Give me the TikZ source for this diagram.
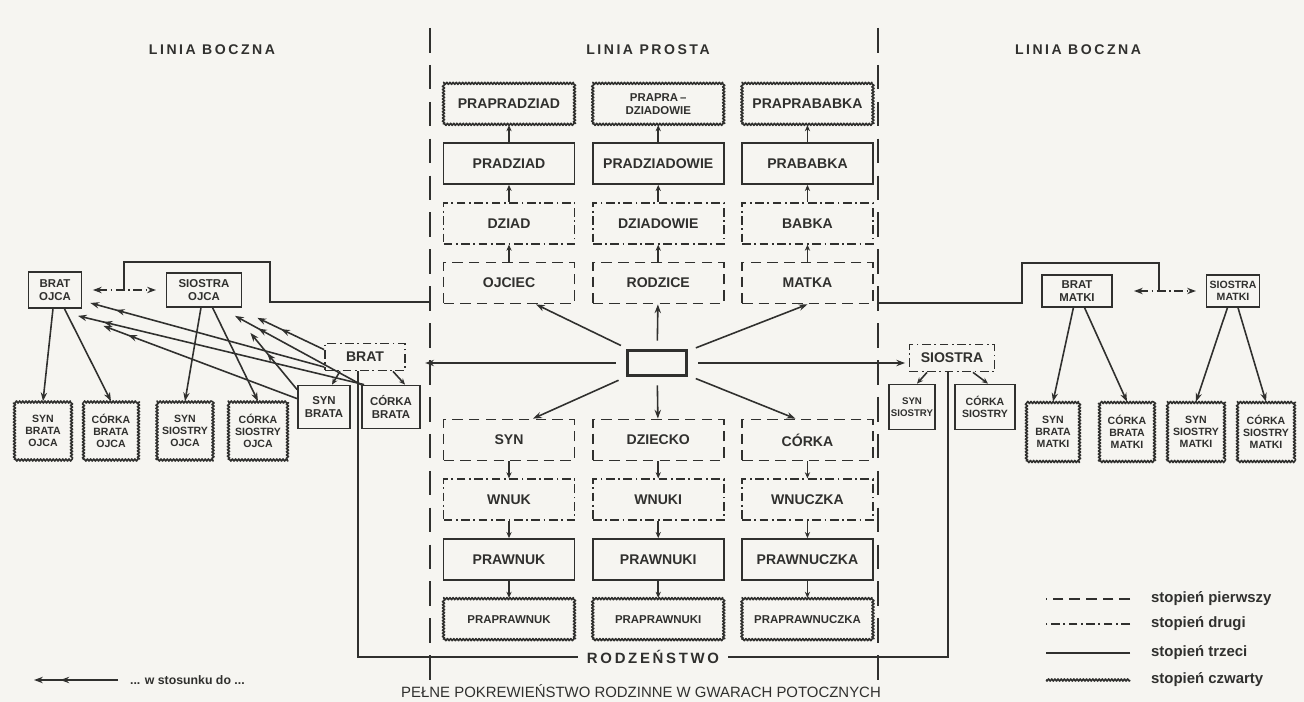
\documentclass[tikz,border=0pt]{standalone}
\usepackage{fontspec}
\setmainfont{Liberation Sans}
\newfontfamily\spacedfont[LetterSpace=18]{Liberation Sans}
\usetikzlibrary{arrows.meta,positioning,calc,decorations.pathmorphing,decorations.markings}
\definecolor{ink}{RGB}{48,48,46}
\definecolor{paper}{RGB}{246,245,241}

\begin{document}
\begin{tikzpicture}[x=0.02cm,y=-0.02cm]
		% degrees of kinship: 1 dashed, 2 dash-dot, 3 solid, 4 wavy
		\tikzstyle{lab} = [font=\bfseries\fontsize{8}{9}\selectfont, text=ink, align=center, inner sep=1pt]
		\tikzstyle{small} = [font=\bfseries\fontsize{6.5}{7.5}\selectfont]
		\tikzstyle{smaller} = [font=\bfseries\fontsize{6}{7}\selectfont]
		\tikzstyle{deg1} = [lab, draw=ink, line width=1pt, dash pattern=on 6pt off 3.5pt]
		\tikzstyle{deg2} = [lab, draw=ink, line width=1pt, dash pattern=on 5pt off 2pt on 1pt off 2pt]
		\tikzstyle{deg3} = [lab, draw=ink, line width=1pt]
		\tikzstyle{deg4} = [lab, draw=ink, line width=0.9pt, line join=round, decorate, decoration={zigzag, amplitude=0.6pt, segment length=1.8pt}]
		\tikzstyle{col} = [minimum width=2.62cm, minimum height=0.82cm]
		\tikzstyle{head} = [font=\spacedfont\bfseries\fontsize{8}{10}\selectfont, text=ink]
		\tikzstyle{note} = [font=\bfseries\fontsize{8.5}{10}\selectfont, text=ink, inner sep=1pt]
		\tikzstyle{titletext} = [font=\fontsize{8.5}{10}\selectfont, text=ink]
		\tikzstyle{wire} = [draw=ink, line width=0.9pt]
		\tikzstyle{arrow} = [wire, -{Stealth[length=5pt,width=3.6pt]}]
		\tikzstyle{link} = [wire, -{Stealth[length=3.5pt,width=3pt]}]
		\tikzstyle{rel} = [arrow, postaction={decorate}, decoration={markings, mark=at position -15pt with {\arrow{Stealth[length=5pt,width=3.6pt]}}}]
		\tikzstyle{dd} = [wire, {Stealth[length=5pt,width=3.6pt]}-{Stealth[length=5pt,width=3.6pt]}, dash pattern=on 5pt off 2pt on 1pt off 2pt]
		\tikzstyle{divider} = [draw=ink, line width=1.2pt, dash pattern=on 14pt off 7pt]

		\fill[paper] (0,0) rectangle (1304,702);
		\useasboundingbox (0,0) rectangle (1304,702);

		\node[head] (leftside) at (212,50) {LINIA BOCZNA};
		\node[head] (straight) at (648,50) {LINIA PROSTA};
		\node[head] (rightside) at (1078,50) {LINIA BOCZNA};

		\coordinate (divLt) at (430,28);
		\coordinate (divLb) at (430,682);
		\coordinate (divRt) at (878,28);
		\coordinate (divRb) at (878,682);
		\draw[divider] (divLt) -- (divLb);
		\draw[divider] (divRt) -- (divRb);

		% ascendants
		\node[deg1, col] (ojciec) at (509,283) {OJCIEC};
		\node[deg2, col, above=0.34cm of ojciec] (dziad) {DZIAD};
		\node[deg3, col, above=0.34cm of dziad] (pradziad) {PRADZIAD};
		\node[deg4, col, above=0.34cm of pradziad] (prapradziad) {PRAPRADZIAD};
		\node[deg1, col, right=0.33cm of ojciec] (rodzice) {RODZICE};
		\node[deg2, col, above=0.34cm of rodzice] (dziadowie) {DZIADOWIE};
		\node[deg3, col, above=0.34cm of dziadowie] (pradziadowie) {PRADZIADOWIE};
		\node[deg4, col, above=0.34cm of pradziadowie, small] (prapradziadowie) {PRAPRA\,--\\DZIADOWIE};
		\node[deg1, col, right=0.33cm of rodzice] (matka) {MATKA};
		\node[deg2, col, above=0.34cm of matka] (babka) {BABKA};
		\node[deg3, col, above=0.34cm of babka] (prababka) {PRABABKA};
		\node[deg4, col, above=0.34cm of prababka] (praprababka) {PRAPRABABKA};

		\node[deg3, minimum width=1.18cm, minimum height=0.5cm, line width=1.3pt] (ego) at (657,363) {};

		% descendants
		\node[deg1, col] (syn) at (509,440) {SYN};
		\node[deg2, col, below=0.34cm of syn] (wnuk) {WNUK};
		\node[deg3, col, below=0.34cm of wnuk] (prawnuk) {PRAWNUK};
		\node[deg4, col, below=0.34cm of prawnuk, small] (praprawnuk) {PRAPRAWNUK};
		\node[deg1, col, right=0.33cm of syn] (dziecko) {DZIECKO};
		\node[deg2, col, below=0.34cm of dziecko] (wnuki) {WNUKI};
		\node[deg3, col, below=0.34cm of wnuki] (prawnuki) {PRAWNUKI};
		\node[deg4, col, below=0.34cm of prawnuki, small] (praprawnuki) {PRAPRAWNUKI};
		\node[deg1, col, right=0.33cm of dziecko] (corka) {CÓRKA};
		\node[deg2, col, below=0.34cm of corka] (wnuczka) {WNUCZKA};
		\node[deg3, col, below=0.34cm of wnuczka] (prawnuczka) {PRAWNUCZKA};
		\node[deg4, col, below=0.34cm of prawnuczka, small] (praprawnuczka) {PRAPRAWNUCZKA};

		% father's side
		\node[deg3, small, minimum width=1.06cm, minimum height=0.72cm] (bratojca) at (55,290) {BRAT\\OJCA};
		\node[deg3, small, minimum width=1.5cm, minimum height=0.68cm] (siostraojca) at (204,290) {SIOSTRA\\OJCA};
		\node[deg2, minimum width=1.6cm, minimum height=0.54cm] (brat) at (365,357) {BRAT};
		\node[deg3, small, minimum width=1.04cm, minimum height=0.86cm] (synbrata) at (324,407) {SYN\\BRATA};
		\node[deg3, small, minimum width=1.16cm, minimum height=0.86cm] (corkabrata) at (391,407) {CÓRKA\\BRATA};
		\node[deg4, smaller, minimum width=1.14cm, minimum height=1.16cm] (synbratojca) at (43,431) {SYN\\BRATA\\OJCA};
		\node[deg4, smaller, minimum width=1.1cm, minimum height=1.16cm] (corkabratojca) at (111,431) {CÓRKA\\BRATA\\OJCA};
		\node[deg4, smaller, minimum width=1.12cm, minimum height=1.16cm] (synsiostryojca) at (185,431) {SYN\\SIOSTRY\\OJCA};
		\node[deg4, smaller, minimum width=1.18cm, minimum height=1.16cm] (corkasiostryojca) at (258,431) {CÓRKA\\SIOSTRY\\OJCA};

		% mother's side
		\node[deg3, small, minimum width=1.4cm, minimum height=0.64cm] (bratmatki) at (1077,291) {BRAT\\MATKI};
		\node[deg3, smaller, minimum width=1.06cm, minimum height=0.64cm] (siostramatki) at (1233,291) {SIOSTRA\\MATKI};
		\node[deg2, minimum width=1.7cm, minimum height=0.54cm] (siostra) at (952,358) {SIOSTRA};
		\node[deg3, font=\bfseries\fontsize{5.5}{6.5}\selectfont, minimum width=0.92cm, minimum height=0.9cm] (synsiostry) at (912,407) {SYN\\SIOSTRY};
		\node[deg3, smaller, minimum width=1.2cm, minimum height=0.9cm] (corkasiostry) at (985,407) {CÓRKA\\SIOSTRY};
		\node[deg4, smaller, minimum width=1.06cm, minimum height=1.18cm] (synbratamatki) at (1053,432) {SYN\\BRATA\\MATKI};
		\node[deg4, smaller, minimum width=1.1cm, minimum height=1.18cm] (corkabratamatki) at (1127,432) {CÓRKA\\BRATA\\MATKI};
		\node[deg4, smaller, minimum width=1.14cm, minimum height=1.18cm] (synsiostrymatki) at (1196,432) {SYN\\SIOSTRY\\MATKI};
		\node[deg4, smaller, minimum width=1.14cm, minimum height=1.18cm] (corkasiostrymatki) at (1266,432) {CÓRKA\\SIOSTRY\\MATKI};

		\node[head, font=\spacedfont\bfseries\fontsize{8.5}{10}\selectfont, inner sep=5pt] (rodz) at (653,657) {RODZEŃSTWO};

		% generations up and down
		\path[link] (ojciec) edge (dziad);
		\path[link] (dziad) edge (pradziad);
		\path[link] (pradziad) edge (prapradziad);
		\path[link] (rodzice) edge (dziadowie);
		\path[link] (dziadowie) edge (pradziadowie);
		\path[link] (pradziadowie) edge (prapradziadowie);
		\path[link] (matka) edge (babka);
		\path[link] (babka) edge (prababka);
		\path[link] (prababka) edge (praprababka);
		\path[link] (syn) edge (wnuk);
		\path[link] (wnuk) edge (prawnuk);
		\path[link] (prawnuk) edge (praprawnuk);
		\path[link] (dziecko) edge (wnuki);
		\path[link] (wnuki) edge (prawnuki);
		\path[link] (prawnuki) edge (praprawnuki);
		\path[link] (corka) edge (wnuczka);
		\path[link] (wnuczka) edge (prawnuczka);
		\path[link] (prawnuczka) edge (praprawnuczka);

		% from ego
		\draw[arrow, shorten <=5pt] (ego) -- ($(ojciec.south)+(27,0)$);
		\draw[arrow, shorten <=5pt] (ego) -- (rodzice);
		\draw[arrow, shorten <=5pt] (ego) -- (matka.south);
		\draw[arrow, shorten <=5pt] (ego) -- ($(syn.north)+(24,0)$);
		\draw[arrow, shorten <=5pt] (ego) -- (dziecko);
		\draw[arrow, shorten <=5pt] (ego) -- ($(corka.north)+(-12,0)$);
		\draw[arrow, shorten <=6pt, shorten >=11pt] (ego) -- (ego -| brat.east);
		\draw[arrow, shorten <=6pt, shorten >=2pt] (ego) -- (ego -| siostra.west);

		% siblings and their children
		\draw[link] ($(brat.south)+(-25,0)$) -- ($(synbrata.north)+(8,0)$);
		\draw[link] ($(brat.south)+(28,0)$) -- ($(corkabrata.north)+(14,0)$);
		\draw[link] ($(siostra.south)+(-25,0)$) -- ($(synsiostry.north)+(5,0)$);
		\draw[link] ($(siostra.south)+(21,0)$) -- ($(corkasiostry.north)+(3,0)$);
		\draw[wire] ($(brat.south)+(-7,0)$) |- (rodz);
		\draw[wire] ($(siostra.south)+(-4,0)$) |- (rodz);

		% uncles and aunts
		\draw[dd, shorten <=6pt, shorten >=5.5pt] (bratojca) -- (siostraojca);
		\draw[dd, shorten <=12pt, shorten >=5.5pt] (bratmatki) -- (siostramatki);
		\coordinate (bomid) at ($(bratojca.east)!0.5!(siostraojca.west)$);
		\coordinate (bmmid) at ($(bratmatki.east)!0.5!(siostramatki.west)$);
		\coordinate (ojl) at (430,302);
		\coordinate (mkl) at (878,303);
		\draw[wire] (bomid) |- (270,262) |- (ojl);
		\draw[wire] (bmmid) |- (1022,263) |- (mkl);

		\draw[arrow] (bratojca) -- (synbratojca.north);
		\draw[arrow] (bratojca) -- (corkabratojca.north);
		\draw[arrow] (siostraojca) -- (synsiostryojca.north);
		\draw[arrow] (siostraojca) -- (corkasiostryojca.north);
		\draw[arrow] (bratmatki) -- (synbratamatki.north);
		\draw[arrow] (bratmatki) -- (corkabratamatki.north);
		\draw[arrow] (siostramatki) -- (synsiostrymatki.north);
		\draw[arrow] (siostramatki) -- (corkasiostrymatki.north);

		% in relation to
		\draw[rel] ($(brat.north west)+(0,7)$) -- ($(siostraojca.south east)+(15,10)$);
		\draw[rel] ($(brat.west)+(0,10)$) -- ($(bratojca.east)+(8,13)$);
		\draw[rel] ($(synbrata.north west)+(0,5)$) -- ($(siostraojca.south east)+(8,25)$);
		\draw[rel] ($(synbrata.north west)+(0,14)$) -- ($(bratojca.south east)+(21,17)$);
		\draw[rel] (corkabrata.north west) -- ($(siostraojca.south)+(31,8)$);
		\draw[rel] ($(corkabrata.north west)+(3,0)$) -- ($(bratojca.south)+(23,7)$);

		% legend
		\node[note, anchor=west] (leg1) at (1149,599) {stopień pierwszy};
		\node[note, anchor=west] (leg2) at (1149,624) {stopień drugi};
		\node[note, anchor=west] (leg3) at (1149,653) {stopień trzeci};
		\node[note, anchor=west] (leg4) at (1149,680) {stopień czwarty};
		\draw[wire, line width=1pt, dash pattern=on 6pt off 3.5pt] ($(leg1.west)+(-19,0)$) -- ++(-84,0);
		\draw[wire, line width=1pt, dash pattern=on 5pt off 2pt on 1pt off 2pt] ($(leg2.west)+(-19,0)$) -- ++(-84,0);
		\draw[wire, line width=1pt] ($(leg3.west)+(-19,0)$) -- ++(-84,0);
		\draw[wire, line width=0.9pt, line join=round, decorate, decoration={zigzag, amplitude=0.6pt, segment length=1.8pt}] ($(leg4.west)+(-19,0)$) -- ++(-84,0);

		\node[note, font=\bfseries\fontsize{7}{8}\selectfont, anchor=west] (relnote) at (128,680) {... w stosunku do ...};
		\draw[rel] ($(relnote.west)+(-10,0)$) -- ++(-84,0);

		\node[titletext] (title) at (641,691) {PEŁNE POKREWIEŃSTWO RODZINNE W GWARACH POTOCZNYCH};
	\end{tikzpicture}
\end{document}
